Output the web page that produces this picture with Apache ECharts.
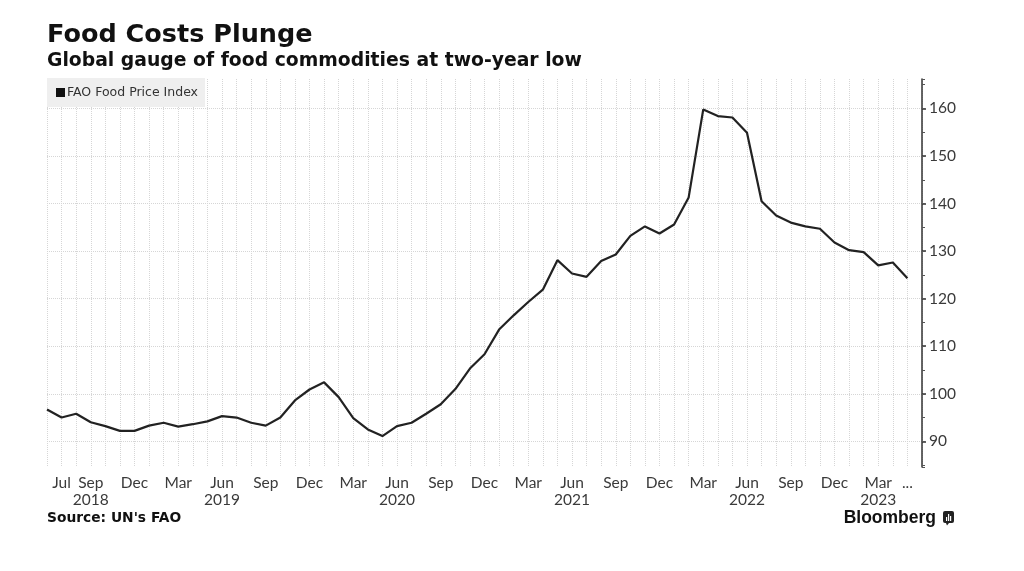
<!DOCTYPE html>
<html>
<head>
<meta charset="utf-8">
<script src="https://cdn.jsdelivr.net/npm/echarts@6/dist/echarts.min.js"></script>
<style>
html,body{margin:0;padding:0;background:#fff;}
#chart{width:1024px;height:571px;}
</style>
</head>
<body>
<div id="chart"></div>
<script>
// Months from Jun 2018 to Jun 2023 (last category has no value)
const categories = [
  "2018-06","2018-07","2018-08","2018-09","2018-10","2018-11","2018-12",
  "2019-01","2019-02","2019-03","2019-04","2019-05","2019-06","2019-07","2019-08","2019-09","2019-10","2019-11","2019-12",
  "2020-01","2020-02","2020-03","2020-04","2020-05","2020-06","2020-07","2020-08","2020-09","2020-10","2020-11","2020-12",
  "2021-01","2021-02","2021-03","2021-04","2021-05","2021-06","2021-07","2021-08","2021-09","2021-10","2021-11","2021-12",
  "2022-01","2022-02","2022-03","2022-04","2022-05","2022-06","2022-07","2022-08","2022-09","2022-10","2022-11","2022-12",
  "2023-01","2023-02","2023-03","2023-04","2023-05","2023-06"
];
const foodPriceIndex = [
  96.7, 95.0, 95.8, 94.0, 93.2, 92.2, 92.2,
  93.3, 93.9, 93.1, 93.6, 94.2, 95.3, 95.0, 93.9, 93.3, 95.0, 98.6, 100.9,
  102.4, 99.3, 94.9, 92.5, 91.1, 93.2, 93.9, 95.8, 97.8, 101.0, 105.3, 108.3,
  113.5, 116.5, 119.3, 121.9, 128.1, 125.3, 124.6, 127.9, 129.3, 133.2, 135.2, 133.7,
  135.6, 141.3, 159.8, 158.4, 158.1, 154.9, 140.5, 137.5, 136.0, 135.2, 134.7, 131.8,
  130.2, 129.8, 127.0, 127.6, 124.3, null
];
// x tick labels keyed by category
const xTickLabels = {
  "2018-07":"Jul", "2018-09":"Sep\n2018", "2018-12":"Dec",
  "2019-03":"Mar", "2019-06":"Jun\n2019", "2019-09":"Sep", "2019-12":"Dec",
  "2020-03":"Mar", "2020-06":"Jun\n2020", "2020-09":"Sep", "2020-12":"Dec",
  "2021-03":"Mar", "2021-06":"Jun\n2021", "2021-09":"Sep", "2021-12":"Dec",
  "2022-03":"Mar", "2022-06":"Jun\n2022", "2022-09":"Sep", "2022-12":"Dec",
  "2023-03":"Mar\n2023", "2023-05":"..."
};
const yMin = 84.6, yMax = 166.2;

const chart = echarts.init(document.getElementById('chart'), null, {renderer:'canvas'});
const axisFont = 'Lato';
chart.setOption({
  animation:false,
  backgroundColor:'#fff',
  grid:{left:47, right:102, top:79, bottom:104, containLabel:false},
  legend:{
    show:true, left:47, top:78,
    data:['FAO Food Price Index'],
    icon:'rect', itemWidth:9, itemHeight:9, itemGap:4,
    backgroundColor:'#efefef',
    padding:[8,7,8,9],
    textStyle:{fontFamily:'DejaVu Sans', fontSize:12.5, color:'#333', padding:[0,0,0,-3]}
  },
  graphic:[
    {type:'text', left:47, top:22, style:{text:'Food Costs Plunge', font:'bold 25.5px "DejaVu Sans"', fill:'#111'}},
    {type:'text', left:47, top:52, style:{text:'Global gauge of food commodities at two-year low', font:'bold 18.8px "DejaVu Sans"', fill:'#111'}},
    {type:'text', left:47, top:511, style:{text:"Source: UN's FAO", font:'bold 13.8px "DejaVu Sans"', fill:'#111'}},
    {type:'text', right:88, top:509, style:{text:'Bloomberg', font:'bold 17.5px "Liberation Sans"', fill:'#111'}},
    {type:'group', left:943, top:511, children:[
      {type:'rect', shape:{x:0,y:0,width:11,height:12,r:2}, style:{fill:'#222'}},
      {type:'polygon', shape:{points:[[3,12],[6,12],[4,14.5]]}, style:{fill:'#222'}},
      {type:'rect', shape:{x:3,y:6,width:1.2,height:4}, style:{fill:'#fff'}},
      {type:'rect', shape:{x:5,y:3,width:1.2,height:7}, style:{fill:'#fff'}},
      {type:'rect', shape:{x:7,y:5,width:1.2,height:5}, style:{fill:'#fff'}}
    ]}
  ],
  xAxis:{
    type:'category',
    data:categories,
    boundaryGap:false,
    axisLine:{show:false},
    axisTick:{show:false},
    axisLabel:{
      interval:0, margin:7,
      fontFamily:axisFont, fontSize:15.5, color:'#3a3a3a', lineHeight:17,
      formatter:(v)=> xTickLabels[v] || ''
    },
    splitLine:{show:true, interval:0, lineStyle:{type:'dotted', color:'#d6d6d6', width:1}}
  },
  yAxis:[{
    type:'value', position:'right',
    min:yMin, max:yMax, splitNumber:8, minInterval:10, maxInterval:10,
    axisLine:{show:true, lineStyle:{color:'#333', width:1.5}},
    axisTick:{show:true, length:4, lineStyle:{color:'#333', width:1.5}},
    axisLabel:{show:true, margin:7, fontFamily:axisFont, fontSize:15.5, color:'#3a3a3a', showMinLabel:false, showMaxLabel:false},
    splitLine:{show:true, showMinLine:false, showMaxLine:false, lineStyle:{type:'dotted', color:'#d6d6d6', width:1}}
  },{
    type:'value', position:'right',
    min:yMin, max:yMax, splitNumber:16, minInterval:5, maxInterval:5,
    axisLine:{show:false},
    axisTick:{show:true, length:3, lineStyle:{color:'#555', width:1}},
    axisLabel:{show:false},
    splitLine:{show:false}
  }],
  series:[{
    name:'FAO Food Price Index',
    type:'line',
    data:foodPriceIndex,
    yAxisIndex:0,
    showSymbol:false,
    symbol:'none',
    lineStyle:{color:'#222', width:2.2},
    itemStyle:{color:'#111'}
  }]
});
</script>
</body>
</html>
